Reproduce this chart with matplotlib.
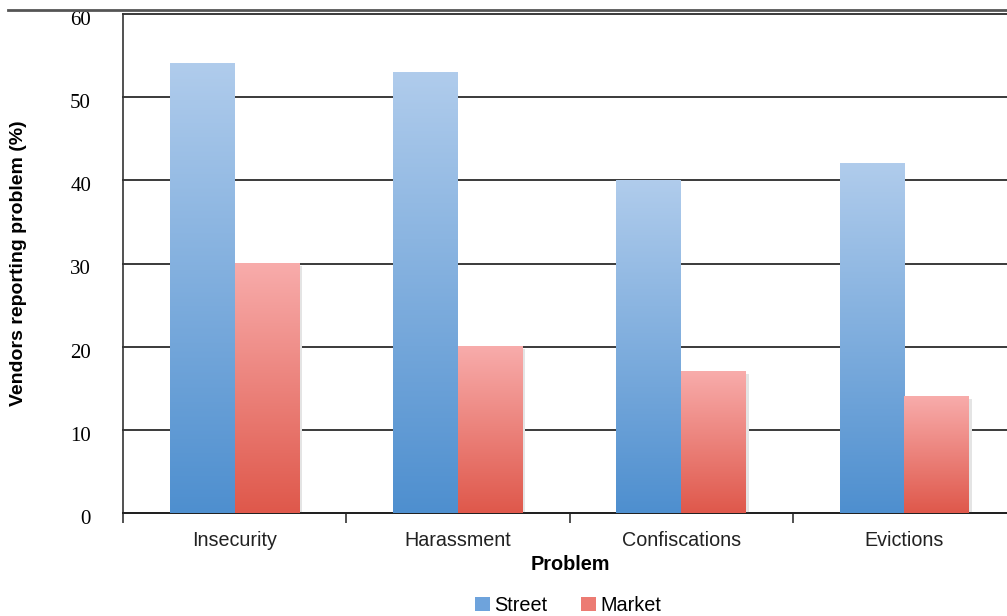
import numpy as np
import matplotlib
matplotlib.use("Agg")
from matplotlib import pyplot as plt
from matplotlib.colors import LinearSegmentedColormap
from matplotlib.patches import Patch, Rectangle
from matplotlib.lines import Line2D
from matplotlib.transforms import ScaledTranslation

# data
problems = ["Insecurity", "Harassment", "Confiscations", "Evictions"]
street = [54, 53, 40, 42]
market = [30, 20, 17, 14]
yticks = [0, 10, 20, 30, 40, 50, 60]

#colours (bottom -> top of each bar)
blue_cm = LinearSegmentedColormap.from_list("b", ["#4e8fcf", "#b0ccec"])
red_cm = LinearSegmentedColormap.from_list("r", ["#df584b", "#f8acab"])

fig = plt.figure(figsize=(10.07, 6.16), dpi=100)
ax = fig.add_axes([123/1007, 103/616, 893/1007, 499/616])

w = 0.29
x = np.arange(len(problems))
grad = np.linspace(0, 1, 256).reshape(-1, 1)

def gradient_bars(xs, hs, cmap, shadow=False):
    bars = ax.bar(xs, hs, width=w, align="edge", color="none", zorder=3)
    for b in bars:
        x0, h = b.get_x(), b.get_height()
        if shadow:
            ax.add_patch(Rectangle((x0 + 0.012, 0), w, h - 0.3, color="#e4e4e4",
                                   zorder=2.5, lw=0))
        ax.imshow(grad, cmap=cmap, origin="lower", aspect="auto",
                  extent=(x0, x0 + w, 0, h), zorder=3)
    return bars

gradient_bars(x - w, street, blue_cm)
gradient_bars(x, market, red_cm, shadow=True)

ax.set_xlim(-0.5, len(problems) - 0.5)
ax.set_ylim(0, 60)

ax.set_yticks(yticks)
ax.set_yticklabels([str(v) for v in yticks], fontfamily="Liberation Serif", fontsize=15)
ax.yaxis.grid(True, color="#3a3a3a", lw=1.4, clip_on=False)
ax.set_axisbelow(True)
ax.tick_params(axis="y", length=0, pad=23)
# labels sit a little below their gridlines in the original
shift = ScaledTranslation(0, -4 / 100, fig.dpi_scale_trans)
for lab in ax.get_yticklabels():
    lab.set_transform(lab.get_transform() + shift)

ax.set_xticks(x)
ax.set_xticklabels(problems, fontsize=14.2, fontfamily="Liberation Sans", color="#222222")
ax.set_xticks(np.arange(-0.5, len(problems)), minor=True)
ax.tick_params(axis="x", which="major", length=0, pad=13)
ax.tick_params(axis="x", which="minor", length=7, width=1.2, color="#333333")

for s in ["top", "right"]:
    ax.spines[s].set_visible(False)
ax.spines["left"].set_color("#333333")
ax.spines["bottom"].set_color("#222222")
ax.spines["left"].set_linewidth(1.2)
ax.spines["bottom"].set_linewidth(1.4)

ax.set_xlabel("Problem", fontsize=14.3, fontfamily="Liberation Sans", fontweight="bold")
ax.xaxis.set_label_coords((570 - 123) / 893, -0.085)
ax.set_ylabel("Vendors reporting problem (%)", fontsize=14,
              fontfamily="Liberation Sans", fontweight="bold")
ax.yaxis.set_label_coords(-96 / 893, 0.5)

handles = [Patch(facecolor="#6ea3dc", edgecolor="none"),
           Patch(facecolor="#ec7b73", edgecolor="none")]
fig.legend(handles, ["Street", "Market"], loc="lower center",
           bbox_to_anchor=(568 / 1007, -0.027), ncol=2, frameon=False,
           prop={"family": "Liberation Sans", "size": 14.3},
           handlelength=0.75, handleheight=0.75,
           handletextpad=0.2, columnspacing=1.7)

# rule under the (cut off) title
fig.add_artist(Line2D([8 / 1007, 1], [1 - 10 / 616] * 2, color="#555555", lw=2))

fig.savefig("out.png", dpi=100)
